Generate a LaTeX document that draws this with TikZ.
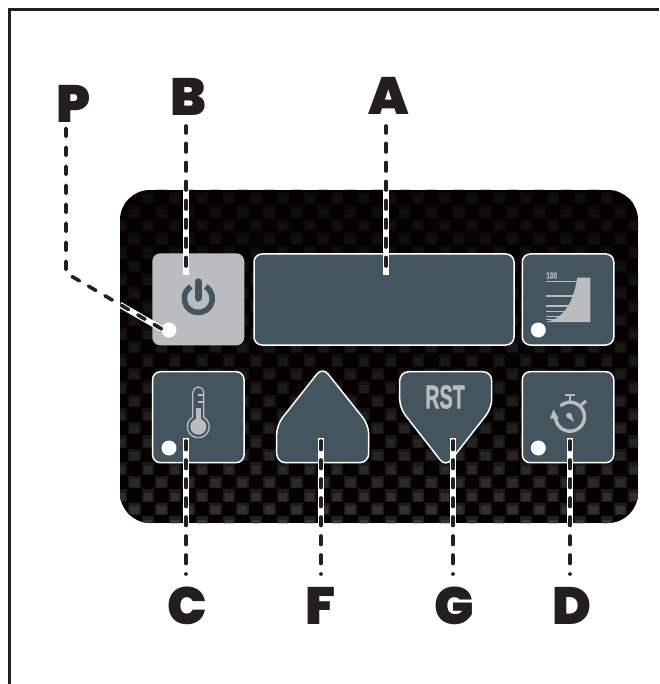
\documentclass[tikz,border=0pt]{standalone}
\usepackage{fontspec}
\usetikzlibrary{calc}
\newfontfamily\letfont{Poppins Black}
\newfontfamily\nmfont[BoldFeatures={FakeBold=1.6}]{Liberation Sans}
\definecolor{ink}{HTML}{231F20}
\definecolor{slate}{HTML}{44555F}
\definecolor{pale}{HTML}{BBBCC0}
\tikzset{
  keybox/.style={draw=white,line width=1.5pt,fill=slate,rounded corners=8pt,inner sep=0pt,minimum width=91.5pt,minimum height=91pt},
  lamp/.style={circle,fill=white,inner sep=0pt,minimum size=15pt},
  tag/.style={text=ink,inner sep=0pt,font=\letfont\fontsize{52.5}{52.5}\selectfont},
  casing/.style={white,line width=5.6pt},
  lead/.style={ink,line width=3.6pt,line cap=round,dash pattern=on 8.5pt off 10.5pt},
  thin line/.style={pale,line width=1.5pt},
}
\begin{document}
\begin{tikzpicture}[x=1pt,y=-1pt]
\useasboundingbox (0,0) rectangle (659,684);
\fill[white] (0,0) rectangle (659,684);
\draw[ink,line width=3pt] (659,10) -- (9.3,10) -- (9.3,684);
% panel
\begin{scope}
\clip[rounded corners=30pt] (120,190) rectangle (638,523);
\fill[black!97!red] (120,190) rectangle (638,523);
\foreach \n in {-22,...,4}{
  \pgfmathsetmacro{\by}{475+13.5*\n}
  \pgfmathsetmacro{\off}{mod(\n+100,2)==0 ? 13.5 : 0}
  \pgfmathsetmacro{\tt}{max(0,(\by-190)/333)}
  \pgfmathsetmacro{\p}{6+15*\tt*\tt}
  \pgfmathsetmacro{\q}{0.6*\p}
  \foreach \k in {-5,...,16}{
    \pgfmathsetmacro{\bx}{222+27*\k+\off}
    \fill[white!\q!black] (\bx+0.5,\by+0.5) rectangle (\bx+13,\by+13);
    \fill[white!\p!black] (\bx+2.5,\by+4) rectangle (\bx+11,\by+12);
  }
}
\end{scope}
% keys
\node[keybox,draw=none,fill=pale,minimum width=92pt,minimum height=92pt] (keyB) at (198.3,299.3) {};
\node[keybox,minimum width=260pt] (keyA) at (384,299.5) {};
\node[keybox] (keyH) at (568,299.5) {};
\node[keybox] (keyC) at (198.3,417.2) {};
\node[keybox] (keyD) at (568,417.2) {};
\draw[white,line width=1.5pt,fill=slate,rounded corners=9pt] (322.5,367) -- (368.7,425) -- (368.7,462.7) -- (276.7,462.7) -- (276.7,425) -- cycle;
\draw[white,line width=1.5pt,fill=slate,rounded corners=9pt] (399.7,371.7) -- (491.7,371.7) -- (491.7,408) -- (445.7,467) -- (399.7,408) -- cycle;
\node[inner sep=0pt,text=pale] (rst) at (445,397) {\scalebox{0.6}[1]{\nmfont\bfseries\fontsize{33}{33}\selectfont RST}};
% lamps
\node[lamp] (lampP) at (169,330) {};
\node[lamp] (lampH) at (538.3,330) {};
\node[lamp] (lampC) at (169,448) {};
\node[lamp] (lampD) at (538.3,448) {};
% power icon
\draw[slate,line width=5.6pt] (198.3,298.5) ++(-58:14) arc[start angle=-58,end angle=238,radius=14];
\draw[slate,line width=7.5pt,line cap=round] (198.3,282) -- (198.3,298);
% chart icon
\foreach \yy in {281.7,296,306,311.7,316.7,319.3}{\draw[thin line] (546,\yy) -- (578,\yy);}
\fill[pale] (546,322) .. controls (565,318) and (573,302) .. (577.3,277.7) -- (590.3,277.7) -- (590.3,322) -- cycle;
\node[inner sep=0pt,text=pale] (hundred) at (551.7,275.5) {\scalebox{0.72}[1]{\nmfont\bfseries\fontsize{9}{9}\selectfont 100}};
% thermometer icon
\draw[pale,line width=1.3pt] (192.8,417.2) -- (192.8,392.5) arc[start angle=180,end angle=360,radius=5.5] -- (203.8,417.2) arc[start angle=-60,end angle=240,radius=11] ;
\draw[pale,line width=1.3pt] (198.3,395) -- (203.8,395) (198.3,402) -- (203.8,402);
\fill[pale] (198.3,426.7) circle (8);
\fill[pale] (196,408) rectangle (200.6,424);
% stopwatch icon
\draw[pale,line width=3.4pt] (570,416.7) ++(176:14.5) arc[start angle=176,end angle=-132,radius=14.5];
\fill[pale] (550,418.5) -- (553.5,409.5) -- (558.5,418.5) -- cycle;
\draw[pale,line width=2.5pt] (570,395) -- (570,402);
\draw[pale,line width=2.6pt] (565,395) -- (575,395);
\draw[pale,line width=3pt] (581,405) -- (586,401);
\fill[pale] (569,415.5) circle (2.8);
\fill[pale] (566.8,417) -- (571,413.7) -- (574,422) -- cycle;
% labels
\node[tag] (tagP) at (74,104) {P};
\node[tag] (tagB) at (188.5,96.5) {B};
\node[tag] (tagA) at (388.5,95.5) {A};
\node[tag] (tagC) at (187.5,606) {C};
\node[tag] (tagF) at (320.5,606) {F};
\node[tag] (tagG) at (454,606) {G};
\node[tag] (tagD) at (572,606) {D};
% anchors
\coordinate (endP) at (161.5,328.8);
\coordinate (bendP) at (66,273);
\coordinate (topP) at (66,126);
\coordinate (edgeP) at (120,304.8);
\coordinate (endB) at (186,275);
\coordinate (edgeB) at (186,190);
\coordinate (topB) at (186,126);
\coordinate (endA) at (386,275);
\coordinate (edgeA) at (386,190);
\coordinate (topA) at (386,126);
\foreach \nm/\xx in {C/186,F/321,G/453,D/570}{
  \coordinate (end\nm) at (\xx,438);
  \coordinate (edge\nm) at (\xx,523);
  \coordinate (bot\nm) at (\xx,574);
}
% leaders
\draw[casing,line width=6pt] (edgeP) -- (endP);
\draw[casing,line width=6pt] (edgeB) -- (endB);
\draw[casing,line width=6pt] (edgeA) -- (endA);
\foreach \nm in {C,F,G,D}{\draw[casing] (edge\nm) -- (end\nm);}
\draw[lead] (endP) -- (bendP) -- (topP);
\draw[lead] ($(endB)+(0,-9)$) -- (topB);
\draw[lead] ($(endA)+(0,-9)$) -- (topA);
\foreach \nm in {C,F,G,D}{\draw[lead] ($(end\nm)+(0,3)$) -- (bot\nm);}
\end{tikzpicture}
\end{document}
